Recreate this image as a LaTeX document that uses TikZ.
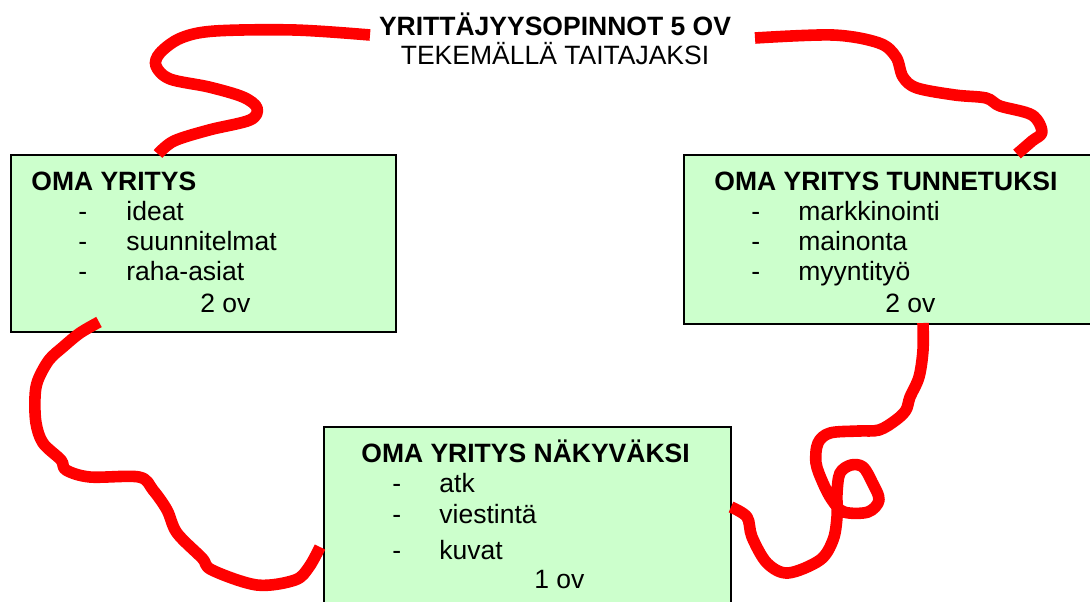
\documentclass[tikz,border=0pt]{standalone}
\usepackage{fontspec}
\setmainfont{Liberation Sans}
\usetikzlibrary{positioning}
\definecolor{kurssivihrea}{HTML}{CCFFCC}

\begin{document}
\begin{tikzpicture}[
        x=0.5pt, y=-0.5pt,
        font=\fontsize{13.25}{15}\selectfont,
        kurssi/.style = {draw=black, line width=1pt, fill=kurssivihrea, anchor=north west, inner sep=0pt},
        teksti/.style = {anchor=base west, inner sep=0pt},
        otsikko/.style = {teksti, font=\fontsize{13.25}{15}\selectfont\bfseries},
        mutka/.style = {draw=red, line width=5.8pt, line join=round}
    ]
    \useasboundingbox (0,0) rectangle (1090,601);
    \clip (0,0) rectangle (1090,601);

    \node[anchor=base, inner sep=0pt, font=\fontsize{13.25}{15}\selectfont\bfseries] (nimi) at (555,35) {YRITTÄJYYSOPINNOT 5 OV};
    \node[anchor=base, inner sep=0pt] (alanimi) at (555,64) {TEKEMÄLLÄ TAITAJAKSI};

    \node[kurssi, minimum width=192.5pt, minimum height=88.5pt] (oma) at (10,154) {};
    \node[otsikko] (omaotsikko) at (31,190) {OMA YRITYS};
    \node[teksti] at (78,220) {-};
    \node[teksti] at (78,250) {-};
    \node[teksti] at (78,280) {-};
    \node[teksti] (ideat) at (126,220) {ideat};
    \node[teksti] (suunnitelmat) at (126,250) {suunnitelmat};
    \node[teksti] (raha) at (126,280) {raha-asiat};
    \node[teksti] (omaov) at (200,312) {2 ov};

    \node[kurssi, minimum width=208.5pt, minimum height=84.5pt] (tunnetuksi) at (683,154) {};
    \node[otsikko] (tunnetuksiotsikko) at (714,190) {OMA YRITYS TUNNETUKSI};
    \node[teksti] at (751,220) {-};
    \node[teksti] at (751,250) {-};
    \node[teksti] at (751,280) {-};
    \node[teksti] (markkinointi) at (798,220) {markkinointi};
    \node[teksti] (mainonta) at (798,250) {mainonta};
    \node[teksti] (myyntityo) at (798,280) {myyntityö};
    \node[teksti] (tunnetuksiov) at (885,312) {2 ov};

    \node[kurssi, minimum width=203.5pt, minimum height=97pt] (nakyvaksi) at (323,426) {};
    \node[otsikko] (nakyvaksiotsikko) at (361,462) {OMA YRITYS NÄKYVÄKSI};
    \node[teksti] at (392,492) {-};
    \node[teksti] at (392,523) {-};
    \node[teksti] at (392,559) {-};
    \node[teksti] (atk) at (439,492) {atk};
    \node[teksti] (viestinta) at (439,523) {viestintä};
    \node[teksti] (kuvat) at (439,559) {kuvat};
    \node[teksti] (nakyvaksiov) at (534,588) {1 ov};

    \coordinate (nimivasen) at (370,35);
    \coordinate (nimioikea) at (755,38);
    \coordinate (omaylos) at (158,154);
    \coordinate (omaalas) at (99,322);
    \coordinate (tunnetuksiylos) at (1017,154);
    \coordinate (tunnetuksialas) at (923,323);
    \coordinate (nakyvaksivasen) at (320,547);
    \coordinate (nakyvaksioikea) at (731,507);

    \draw[mutka] plot[smooth, tension=0.55] coordinates {(nimivasen) (295,30) (215,31) (181,38) (160,53) (156,66) (170,79) (209,87) (243,97) (257,108) (250,120) (209,130) (174,141) (omaylos)};
    \draw[mutka] plot[smooth, tension=0.55] coordinates {(nimioikea) (833,35) (879,43) (896,57) (903,77) (917,88) (955,95) (986,98) (1000,106) (1032,115) (1042,132) (1032,141) (tunnetuksiylos)};
    \draw[mutka] plot[smooth, tension=0.55] coordinates {(omaalas) (80,333) (63,347) (49,360) (38,380) (35,397) (36,423) (43,443) (61,460) (66,470) (90,477) (139,477) (153,490) (167,510) (177,533) (202,558) (212,570) (257,585) (295,580) (309,567) (nakyvaksivasen)};
    \draw[mutka] plot[smooth, tension=0.55] coordinates {(tunnetuksialas) (923,350) (919,377) (910,397) (906,410) (896,420) (879,430) (858,431) (830,433) (818,443) (816,463) (823,483) (832,500) (844,512) (868,512) (879,500) (872,482) (863,467) (851,465) (840,473) (837,493) (837,517) (833,540) (820,560) (788,573) (767,563) (752,537) (747,517) (nakyvaksioikea)};
\end{tikzpicture}
\end{document}
